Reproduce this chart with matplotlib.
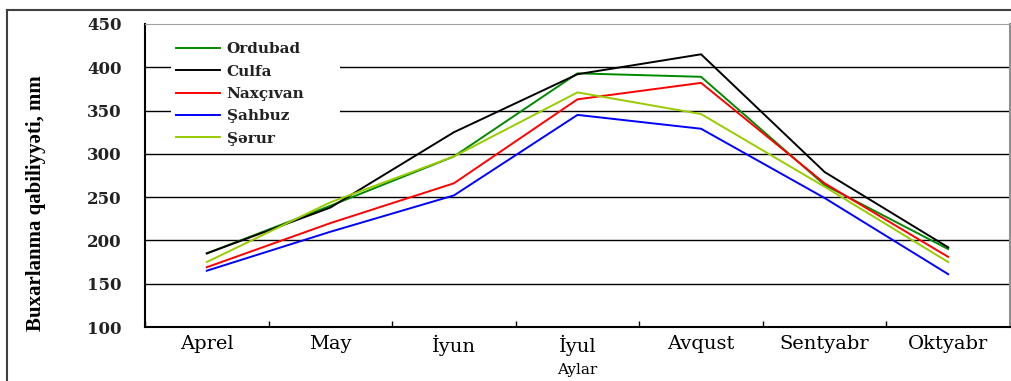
import numpy as np
import matplotlib
matplotlib.use("Agg")
import matplotlib.pyplot as plt
from matplotlib.lines import Line2D

# aylar (months) and evaporation values, mm
months = ["Aprel", "May", "İyun", "İyul", "Avqust", "Sentyabr", "Oktyabr"]

ordubad = [185, 240, 297, 393, 389, 264, 190]
culfa = [185, 238, 325, 392, 415, 279, 192]
naxcivan = [169, 220, 266, 363, 382, 266, 181]
sahbuz = [165, 210, 252, 345, 329, 249, 161]
serur = [175, 244, 297, 371, 346, 262, 175]

series = [
    ("Ordubad", ordubad, "#008a00"),
    ("Culfa", culfa, "#000000"),
    ("Naxçıvan", naxcivan, "#ff0000"),
    ("Şahbuz", sahbuz, "#0000ff"),
    ("Şərur", serur, "#99cc00"),
]

fig = plt.figure(figsize=(10.12, 3.81), dpi=100)
ax = fig.add_axes([145 / 1012, 54 / 381, 865 / 1012, 303 / 381])

x = np.arange(len(months))
for name, vals, col in series:
    ax.plot(x, vals, color=col, lw=1.4, label=name)

ax.set_xlim(-0.5, len(months) - 0.5)
ax.set_ylim(100, 450)
ax.set_yticks(range(100, 451, 50))
ax.set_xticks(x)
ax.set_xticklabels(months, family="DejaVu Serif", fontsize=14)
ax.set_xticks(np.arange(len(months) + 1) - 0.5, minor=True)
ax.tick_params(axis="x", which="major", length=0, pad=6)
ax.tick_params(axis="x", which="minor", length=4, direction="in", width=1)
ax.tick_params(axis="y", length=0, pad=17)
for lab in ax.get_yticklabels():
    lab.set_family("DejaVu Serif")
    lab.set_fontweight("bold")
    lab.set_fontsize(12)
    lab.set_color("#222222")

# horizontal grid
for v in range(150, 401, 50):
    ax.axhline(v, color="black", lw=1, zorder=0)

ax.spines["left"].set_linewidth(1.5)
ax.spines["bottom"].set_linewidth(1.5)
ax.spines["top"].set_color("#a0a0a0")
ax.spines["right"].set_color("#909090")
ax.spines["right"].set_linewidth(1.5)

ax.set_xlabel("Aylar", family="DejaVu Serif", fontsize=11)
ax.set_ylabel("Buxarlanma qabiliyyəti, mm", family=["Liberation Serif", "DejaVu Serif"],
              fontweight="bold", fontsize=15)
ax.yaxis.set_label_coords(-0.114, 0.41)
ax.xaxis.set_label_coords(0.5, -0.118)

leg = ax.legend(loc="upper left", bbox_to_anchor=(0.03, 0, 0.195, 0.955), mode="expand",
                frameon=True, framealpha=1, edgecolor="none", fancybox=False,
                prop={"family": "DejaVu Serif", "weight": "bold", "size": 11},
                handlelength=2.9, handletextpad=0.45, labelspacing=0.55,
                borderpad=0.3, borderaxespad=0)
for t in leg.get_texts():
    t.set_color("#222222")

# outer frame of the picture
fig.add_artist(Line2D([7 / 1012, 7 / 1012], [0, 371 / 381], color="#404040", lw=1.5))
fig.add_artist(Line2D([7 / 1012, 1], [371 / 381, 371 / 381], color="#404040", lw=1.5))

fig.savefig("out.png", dpi=100)
